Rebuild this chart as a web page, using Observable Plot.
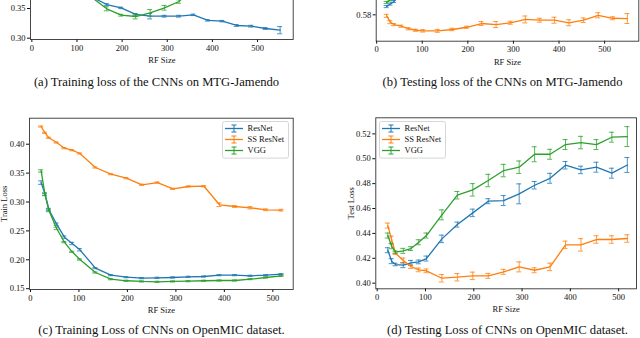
<!DOCTYPE html>
<html><head><meta charset="utf-8">
<script src="https://cdn.jsdelivr.net/npm/d3@7"></script>
<script src="https://cdn.jsdelivr.net/npm/@observablehq/plot@0.6"></script>
<style>
body{margin:0;background:#fff;}
#fig{position:relative;width:640px;height:338px;overflow:hidden;background:#fff;font-family:"Liberation Serif","DejaVu Serif",serif;}
.panel{position:absolute;}
.cap{position:absolute;font-size:12.6px;white-space:nowrap;transform:translate(-50%,-50%);color:#111;}
</style></head><body><div id="fig"></div>
<script>
// ---------- data ----------
const rfShort = [22,30,38,54,70,86,102,134,166,198,230,262,294,326,358,390,422,454,486,518];
const rfLong = [22,30,38,54,70,86,102,134,166,198,230,262,294,326,358,390,422,454,486,518,550];
const xTickValues = [0,100,200,300,400,500];
const seriesNames = ["ResNet","SS ResNet","VGG"];
const seriesColors = ["#1f77b4","#ff7f0e","#2ca02c"];

// (a) Training loss, MTG-Jamendo
const aTicks = [0.30,0.35];
const aResNet = [0.53,0.51,0.49,0.46,0.44,0.42,0.40,0.369,0.3567,0.351,0.340,0.337,0.337,0.337,0.3393,0.330,0.3287,0.3214,0.3202,0.3163,0.3135];
const aResNetErr = [0.0015,0.0015,0.0015,0.0015,0.0015,0.0015,0.0015,0.0015,0.0015,0.0012,0.0015,0.0045,0.0015,0.0015,0.0012,0.0012,0.0012,0.0015,0.0015,0.0015,0.006];
const aVGG = [0.56,0.54,0.52,0.49,0.47,0.45,0.42,0.368,0.3495,0.3387,0.3365,0.3427,0.3512,0.3618,0.385,0.40];
const aVGGErr = [0.0015,0.0015,0.0015,0.0015,0.0015,0.0015,0.0015,0.002,0.0034,0.0015,0.004,0.0055,0.004,0.003,0.002,0.002];

// (b) Testing loss, MTG-Jamendo
const bTicks = [0.58];
const bSSResNet = [0.5793,0.5751,0.5735,0.5724,0.5707,0.5697,0.5693,0.5693,0.5702,0.5717,0.5742,0.5735,0.5747,0.5769,0.5764,0.5764,0.5747,0.5764,0.5797,0.5777,0.5775];
const bSSResNetErr = [0.001,0.001,0.0007,0.0007,0.0007,0.0007,0.0008,0.001,0.0008,0.0007,0.0013,0.002,0.001,0.0023,0.0013,0.002,0.002,0.0015,0.0017,0.001,0.0033];
const bResNet = [0.5855,0.5872,0.5889,0.597,0.607,0.615];
const bResNetErr = [0.0007,0.0007,0.0007,0.0007,0.0007,0.0007];
const bVGG = [0.5882,0.590,0.594,0.60,0.61,0.62];
const bVGGErr = [0.0007,0.0007,0.0007,0.0007,0.0007,0.0007];

// (c) Training loss, OpenMIC
const cTicks = [0.15,0.20,0.25,0.30,0.35,0.40];
const cResNet = [0.3335,0.3138,0.287,0.2616,0.2391,0.2282,0.2173,0.1855,0.1734,0.1699,0.1682,0.1688,0.1694,0.1705,0.1711,0.1734,0.1734,0.1723,0.1734,0.1751];
const cResNetErr = [0.003,0.002,0.002,0.002,0.002,0.002,0.002,0.001,0.001,0.001,0.001,0.001,0.001,0.001,0.001,0.001,0.001,0.001,0.001,0.001];
const cSSResNet = [0.4306,0.4197,0.4111,0.4029,0.3931,0.3896,0.3839,0.3597,0.3481,0.3412,0.3298,0.3337,0.3228,0.3268,0.3273,0.2952,0.2922,0.290,0.2865,0.2858];
const cSSResNetErr = [0.001,0.001,0.001,0.001,0.001,0.001,0.001,0.001,0.001,0.001,0.001,0.001,0.001,0.001,0.001,0.003,0.0015,0.002,0.0015,0.0015];
const cVGG = [0.3537,0.313,0.2853,0.2542,0.2305,0.2138,0.2005,0.178,0.1664,0.1637,0.1625,0.1619,0.1625,0.163,0.1637,0.1642,0.1642,0.1665,0.1694,0.1723];
const cVGGErr = [0.002,0.002,0.002,0.002,0.001,0.001,0.001,0.001,0.001,0.001,0.001,0.001,0.001,0.001,0.001,0.001,0.001,0.001,0.001,0.001];

// (d) Testing loss, OpenMIC
const dTicks = [0.40,0.42,0.44,0.46,0.48,0.50,0.52];
const dResNet = [0.4265,0.4177,0.415,0.4145,0.4163,0.4171,0.4198,0.4356,0.4471,0.4565,0.4659,0.4664,0.4718,0.4787,0.4843,0.4948,0.491,0.4932,0.4884,0.495];
const dResNetErr = [0.002,0.002,0.001,0.002,0.002,0.0015,0.002,0.003,0.002,0.003,0.002,0.004,0.008,0.003,0.004,0.003,0.003,0.004,0.004,0.006];
const dSSResNet = [0.4463,0.4348,0.4241,0.4182,0.4134,0.4107,0.4099,0.404,0.4048,0.4059,0.4059,0.4091,0.4131,0.4104,0.4131,0.4308,0.4308,0.4351,0.4351,0.4359];
const dSSResNetErr = [0.002,0.003,0.001,0.002,0.0015,0.0015,0.0015,0.003,0.003,0.003,0.002,0.002,0.004,0.002,0.003,0.003,0.005,0.003,0.003,0.003];
const dVGG = [0.4383,0.4297,0.4249,0.426,0.4278,0.4329,0.4383,0.4549,0.4707,0.475,0.4825,0.4905,0.4932,0.5036,0.5036,0.5114,0.513,0.5114,0.5173,0.5178];
const dVGGErr = [0.002,0.002,0.001,0.002,0.0015,0.002,0.002,0.004,0.003,0.005,0.005,0.005,0.005,0.006,0.004,0.004,0.005,0.004,0.004,0.008];

const captions = [
  "(a) Training loss of the CNNs on MTG-Jamendo",
  "(b) Testing loss of the CNNs on MTG-Jamendo",
  "(c) Training Loss of CNNs on OpenMIC dataset.",
  "(d) Testing Loss of CNNs on OpenMIC dataset."
];

// ---------- drawing ----------
const fig = document.getElementById("fig");
const FONT = '"Liberation Serif","DejaVu Serif",serif';

function panel(o) {
  const [mt, mr, mb, ml] = o.margin;
  const fw = o.width - ml - mr;
  const capHalf = 2.5 * (o.xDomain[1] - o.xDomain[0]) / fw;
  const marks = [];
  for (const s of o.series) {
    const data = s.y.map((v, i) => ({x: s.rf[i], y: v, e: s.e[i]}));
    const eb = {stroke: s.color, strokeWidth: 1, strokeOpacity: 0.8};
    marks.push(Plot.ruleX(data, {x: "x", y1: d => d.y - d.e, y2: d => d.y + d.e, ...eb}));
    marks.push(Plot.ruleY(data, {y: d => d.y - d.e, x1: d => d.x - capHalf, x2: d => d.x + capHalf, ...eb}));
    marks.push(Plot.ruleY(data, {y: d => d.y + d.e, x1: d => d.x - capHalf, x2: d => d.x + capHalf, ...eb}));
    marks.push(Plot.line(data, {x: "x", y: "y", stroke: s.color, strokeWidth: 1.3}));
  }
  marks.push(Plot.frame({stroke: "#333", strokeWidth: 0.9}));
  const svg = Plot.plot({
    width: o.width, height: o.height,
    marginTop: mt, marginRight: mr, marginBottom: mb, marginLeft: ml,
    style: {fontFamily: FONT, fontSize: "8.5px", color: "#111", background: "transparent", overflow: "visible"},
    x: {domain: o.xDomain, ticks: xTickValues, tickSize: 3, tickPadding: 2, tickFormat: d3.format("d"),
        label: "RF Size", labelAnchor: "center", labelArrow: "none", labelOffset: o.xLabelOffset},
    y: {domain: o.yDomain, ticks: o.yTicks, tickSize: 3, tickPadding: 2, tickFormat: d3.format(".2f"),
        label: o.yLabel, labelAnchor: "center", labelArrow: "none", labelOffset: o.yLabelOffset},
    marks
  });
  const div = document.createElement("div");
  div.className = "panel";
  div.style.left = o.left + "px";
  div.style.top = o.top + "px";
  div.appendChild(svg);
  fig.appendChild(div);
}

function caption(text, cx, cy) {
  const d = document.createElement("div");
  d.className = "cap";
  d.style.left = cx + "px";
  d.style.top = cy + "px";
  d.textContent = text;
  fig.appendChild(d);
}

function legend(left, top) {
  const w = 66, h = 36.6;
  const svg = d3.create("svg").attr("width", w + 2).attr("height", h + 2)
    .style("position", "absolute").style("left", left + "px").style("top", top + "px");
  svg.append("rect").attr("x", 0.5).attr("y", 0.5).attr("width", w).attr("height", h).attr("rx", 2)
    .attr("fill", "#fff").attr("fill-opacity", 0.85).attr("stroke", "#ccc").attr("stroke-width", 0.8);
  seriesNames.forEach((name, i) => {
    const cy = 7.5 + i * 11, c = seriesColors[i];
    const g = svg.append("g").attr("stroke", c);
    g.append("line").attr("x1", 3).attr("x2", 21).attr("y1", cy).attr("y2", cy).attr("stroke-width", 1.3);
    g.append("line").attr("x1", 12).attr("x2", 12).attr("y1", cy - 3.5).attr("y2", cy + 3.5).attr("stroke-width", 1);
    g.append("line").attr("x1", 9.5).attr("x2", 14.5).attr("y1", cy - 3.5).attr("y2", cy - 3.5).attr("stroke-width", 1);
    g.append("line").attr("x1", 9.5).attr("x2", 14.5).attr("y1", cy + 3.5).attr("y2", cy + 3.5).attr("stroke-width", 1);
    svg.append("text").attr("x", 25.5).attr("y", cy).attr("dy", "0.35em")
      .attr("font-family", FONT).attr("font-size", "8.5px").attr("fill", "#111").text(name);
  });
  fig.appendChild(svg.node());
}

const [cB, cO, cG] = seriesColors;

panel({left: 0, top: -140, width: 320, height: 210, margin: [10, 27.3, 31, 30],
  xDomain: [-3, 579], yDomain: [0.2978, 0.5824], yTicks: aTicks,
  yLabel: null, xLabelOffset: 23.5, yLabelOffset: 28,
  series: [
    {rf: rfLong, y: aResNet, e: aResNetErr, color: cB},
    {rf: rfLong.slice(0, aVGG.length), y: aVGG, e: aVGGErr, color: cG}
  ]});

panel({left: 320, top: -140, width: 320, height: 210, margin: [10, 1.7, 29.3, 55.7],
  xDomain: [-1, 575], yDomain: [0.5624, 0.6763], yTicks: bTicks,
  yLabel: null, xLabelOffset: 23.5, yLabelOffset: 28,
  series: [
    {rf: rfLong.slice(0, bResNet.length), y: bResNet, e: bResNetErr, color: cB},
    {rf: rfLong, y: bSSResNet, e: bSSResNetErr, color: cO},
    {rf: rfLong.slice(0, bVGG.length), y: bVGG, e: bVGGErr, color: cG}
  ]});

panel({left: 0, top: 100, width: 320, height: 220, margin: [17.7, 27.3, 31, 29],
  xDomain: [-2, 542], yDomain: [0.1486, 0.445], yTicks: cTicks,
  yLabel: "Train Loss", xLabelOffset: 23.5, yLabelOffset: 28.5,
  series: [
    {rf: rfShort, y: cResNet, e: cResNetErr, color: cB},
    {rf: rfShort, y: cSSResNet, e: cSSResNetErr, color: cO},
    {rf: rfShort, y: cVGG, e: cVGGErr, color: cG}
  ]});

panel({left: 320, top: 100, width: 320, height: 220, margin: [17.3, 4, 31.7, 55.3],
  xDomain: [-2.9, 537], yDomain: [0.3955, 0.5329], yTicks: dTicks,
  yLabel: "Test Loss", xLabelOffset: 23.5, yLabelOffset: 27.5,
  series: [
    {rf: rfShort, y: dResNet, e: dResNetErr, color: cB},
    {rf: rfShort, y: dSSResNet, e: dSSResNetErr, color: cO},
    {rf: rfShort, y: dVGG, e: dVGGErr, color: cG}
  ]});

legend(221.5, 120.5);
legend(379, 120.5);

caption(captions[0], 156.5, 81.7);
caption(captions[1], 502.5, 81.7);
caption(captions[2], 161.5, 329.5);
caption(captions[3], 507.5, 329.5);
</script></body></html>
